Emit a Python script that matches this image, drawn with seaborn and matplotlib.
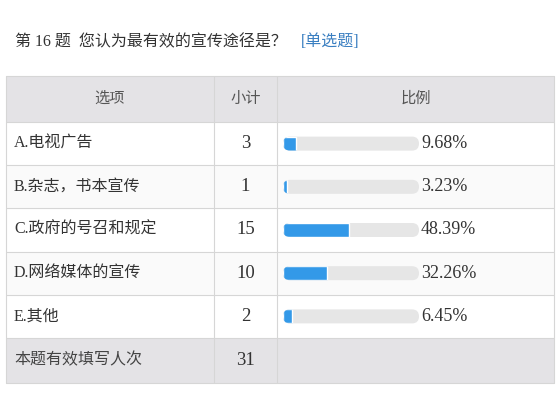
import matplotlib
matplotlib.use("Agg")
import matplotlib.pyplot as plt
from matplotlib.patches import Rectangle, FancyBboxPatch
import seaborn as sns

# ============================================================
# DATA
# ============================================================

title_text = "第 16 题  您认为最有效的宣传途径是？"
title_tag = "[单选题]"

headers = ["选项", "小计", "比例"]
options = ["A.电视广告", "B.杂志，书本宣传", "C.政府的号召和规定", "D.网络媒体的宣传", "E.其他"]
counts = [3, 1, 15, 10, 2]
percents = [9.68, 3.23, 48.39, 32.26, 6.45]
total_label = "本题有效填写人次"
total_count = 31

# ============================================================
# STYLE
# ============================================================

sns.set_style("white")
plt.rcParams["font.family"] = ["Liberation Serif", "Noto Sans CJK SC", "DejaVu Sans"]

blue = "#3399e8"
track = "#e6e6e6"
head_bg = "#e4e3e6"
line_c = "#d6d6d6"
text_c = "#333333"

W, H = 560, 420
fig = plt.figure(figsize=(W / 100, H / 100), dpi=100)
ax = fig.add_axes([0, 0, 1, 1])
ax.set_xlim(0, W)
ax.set_ylim(H, 0)
ax.axis("off")

# table geometry (pixels)
left, right = 6, 554
col1, col2 = 214, 277
head_top, head_bot = 76, 122
row_h = 43.2
total_top = head_bot + row_h * len(options)
total_bot = 383

# ============================================================
# TITLE
# ============================================================

ax.text(15, 42, title_text, fontsize=11.5, color=text_c, va="center", ha="left")
ax.text(301, 42, title_tag, fontsize=11.5, color="#3a7fc1", va="center", ha="left")

# ============================================================
# TABLE BACKGROUND + LINES
# ============================================================

ax.add_patch(Rectangle((left, head_top), right - left, head_bot - head_top,
                       facecolor=head_bg, edgecolor="none"))
for i in range(len(options)):
    fc = "#fafafa" if i % 2 == 1 else "white"
    ax.add_patch(Rectangle((left, head_bot + i * row_h), right - left, row_h,
                           facecolor=fc, edgecolor="none"))
ax.add_patch(Rectangle((left, total_top), right - left, total_bot - total_top,
                       facecolor=head_bg, edgecolor="none"))

for i in range(len(options) + 1):
    y = head_bot + i * row_h
    ax.plot([left, right], [y, y], color=line_c, lw=0.8)
ax.plot([left, right], [head_top, head_top], color=line_c, lw=0.8)
ax.plot([left, right], [total_bot, total_bot], color=line_c, lw=0.8)
for x in [left, col1, col2, right]:
    ax.plot([x, x], [head_top, total_bot], color=line_c, lw=0.8)

# header
head_y = (head_top + head_bot) / 2
ax.text((left + col1) / 2, head_y, headers[0], fontsize=11, color="#555555", ha="center", va="center")
ax.text((col1 + col2) / 2, head_y, headers[1], fontsize=11, color="#555555", ha="center", va="center")
ax.text((col2 + right) / 2, head_y, headers[2], fontsize=11, color="#555555", ha="center", va="center")

# rows
for i, (opt, c) in enumerate(zip(options, counts)):
    y = head_bot + (i + 0.5) * row_h
    ax.text(14, y, opt, fontsize=11.5, color=text_c, ha="left", va="center")
    ax.text((col1 + col2) / 2, y, str(c), fontsize=13.5, color=text_c, ha="center", va="center")

ty = (total_top + total_bot) / 2
ax.text(14, ty, total_label, fontsize=11.5, color="#444444", ha="left", va="center")
ax.text((col1 + col2) / 2, ty, str(total_count), fontsize=13.5, color=text_c, ha="center", va="center")

# ============================================================
# PROGRESS BARS (seaborn)
# ============================================================

bar_left, bar_w = 283, 136
axb = fig.add_axes([bar_left / W, (H - total_top) / H, bar_w / W, (total_top - head_bot) / H])
axb.patch.set_alpha(0)

bar_px = 14
bar_units = bar_px / row_h

sns.barplot(x=[100] * len(options), y=options, color=track, width=bar_units,
            saturation=1, ax=axb, orient="h")
track_rects = list(axb.patches)

# rounded tracks
x_per_px = 100 / bar_w
y_per_px = 1 / row_h
aspect = y_per_px / x_per_px
radius = bar_px / 2 * x_per_px
pills = []
for r in track_rects:
    p = FancyBboxPatch((r.get_x(), r.get_y()), r.get_width(), r.get_height(),
                       boxstyle=f"round,pad=0,rounding_size={radius}",
                       mutation_aspect=aspect, facecolor=track, edgecolor="none")
    r.remove()
    axb.add_patch(p)
    pills.append(p)

sns.barplot(x=percents, y=options, color=blue, width=bar_units,
            saturation=1, ax=axb, orient="h")
fills = [p for p in axb.patches if p not in pills]
for f, p in zip(fills, pills):
    f.set_clip_path(p)

for i, pct in enumerate(percents):
    axb.text(101.5, i, f"{pct:.2f}%", fontsize=13, color=text_c,
             ha="left", va="center", clip_on=False)

axb.set_xlim(0, 100)
axb.set_ylim(len(options) - 0.5, -0.5)
axb.axis("off")

fig.savefig("out.png", dpi=100)
